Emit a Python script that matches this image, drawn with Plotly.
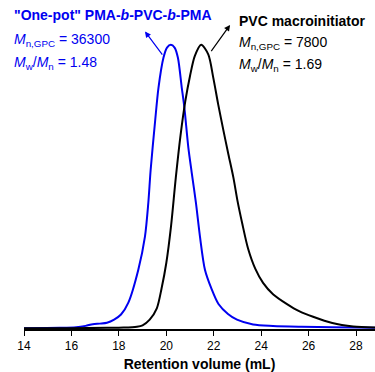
import plotly.graph_objects as go

# GPC traces: retention volume (mL) vs normalised RI signal
pvc_volume = [14.0, 16.0, 17.5, 18.2, 18.76, 19.0, 19.3, 19.6, 19.8, 20.0, 20.2, 20.4,
              20.6, 20.8, 21.0, 21.2, 21.47, 21.77, 21.98, 22.19, 22.41, 22.62, 22.83,
              23.0, 23.2, 23.45, 23.75, 24.08, 24.5, 25.09, 25.6, 26.19, 27.0, 27.88, 28.8]
pvc_signal = [0.0, 0.0, 0.001, 0.002, 0.005, 0.01, 0.03, 0.07, 0.14, 0.23, 0.36, 0.53,
              0.68, 0.80, 0.89, 0.96, 1.0, 0.966, 0.884, 0.789, 0.697, 0.613, 0.531,
              0.45, 0.37, 0.28, 0.21, 0.16, 0.12, 0.085, 0.06, 0.04, 0.018, 0.006, 0.002]

block_volume = [14.0, 15.5, 16.2, 16.6, 16.9, 17.2, 17.5, 17.8, 18.09, 18.4, 18.82, 19.1,
                19.24, 19.34, 19.53, 19.67, 19.88, 20.03, 20.19, 20.35, 20.49, 20.65,
                20.76, 20.93, 21.07, 21.25, 21.42, 21.63, 21.9, 22.2, 22.6, 22.98, 23.66,
                24.5, 25.7, 27.0, 28.8]
block_signal = [0.0, 0.001, 0.003, 0.008, 0.014, 0.016, 0.019, 0.03, 0.048, 0.09, 0.206,
                0.323, 0.44, 0.558, 0.732, 0.848, 0.954, 0.99, 1.0, 0.99, 0.954, 0.85,
                0.78, 0.637, 0.55, 0.442, 0.323, 0.206, 0.14, 0.085, 0.05, 0.03, 0.013,
                0.008, 0.005, 0.003, 0.001]

x_ticks = [14, 16, 18, 20, 22, 24, 26, 28]

BLUE = "#0000F0"
FONT = "Arial, Liberation Sans, sans-serif"

fig = go.Figure()
fig.add_trace(go.Scatter(x=block_volume, y=block_signal, mode="lines",
                         line=dict(color=BLUE, width=2, shape="spline", smoothing=0.8),
                         hoverinfo="skip"))
fig.add_trace(go.Scatter(x=pvc_volume, y=pvc_signal, mode="lines",
                         line=dict(color="black", width=2, shape="spline", smoothing=0.8),
                         hoverinfo="skip"))

# arrows pointing from each peak to its label
fig.add_annotation(x=19.10, y=1.047, ax=19.88, ay=0.96, xref="x", yref="y",
                   axref="x", ayref="y", text="", showarrow=True, arrowhead=2,
                   arrowsize=1, arrowwidth=1.2, arrowcolor=BLUE)
fig.add_annotation(x=22.69, y=1.07, ax=21.85, ay=0.972, xref="x", yref="y",
                   axref="x", ayref="y", text="", showarrow=True, arrowhead=2,
                   arrowsize=1, arrowwidth=1.2, arrowcolor="black")

labels = [
    (-0.034, 0.954, '<b>"One-pot" PMA-<i>b</i>-PVC-<i>b</i>-PMA</b>', BLUE),
    (-0.034, 0.878, "<i>M</i><sub>n,GPC</sub> = 36300", BLUE),
    (-0.034, 0.810, "<i>M</i><sub>w</sub>/<i>M</i><sub>n</sub> = 1.48", BLUE),
    (0.607, 0.936, "<b>PVC macroinitiator</b>", "black"),
    (0.607, 0.869, "<i>M</i><sub>n,GPC</sub> = 7800", "black"),
    (0.607, 0.802, "<i>M</i><sub>w</sub>/<i>M</i><sub>n</sub> = 1.69", "black"),
]
for lx, ly, txt, col in labels:
    fig.add_annotation(x=lx, y=ly, xref="paper", yref="paper", text=txt,
                       showarrow=False, xanchor="left", yanchor="middle",
                       font=dict(family=FONT, size=14, color=col))

fig.update_layout(
    width=375, height=372,
    margin=dict(l=24, r=0, t=0, b=43),
    paper_bgcolor="white", plot_bgcolor="white",
    showlegend=False,
    font=dict(family=FONT, size=12, color="black"),
    xaxis=dict(range=[14, 28.8], tickvals=x_ticks, showgrid=False, zeroline=False,
               showline=True, linecolor="black", linewidth=1.5,
               ticks="outside", ticklen=5, tickwidth=1.2, tickcolor="black",
               tickfont=dict(family=FONT, size=12),
               title=dict(text="<b>Retention volume (mL)</b>", standoff=9,
                          font=dict(family=FONT, size=14))),
    yaxis=dict(range=[-0.003, 1.158], visible=False),
)

fig.write_html("out.html")
